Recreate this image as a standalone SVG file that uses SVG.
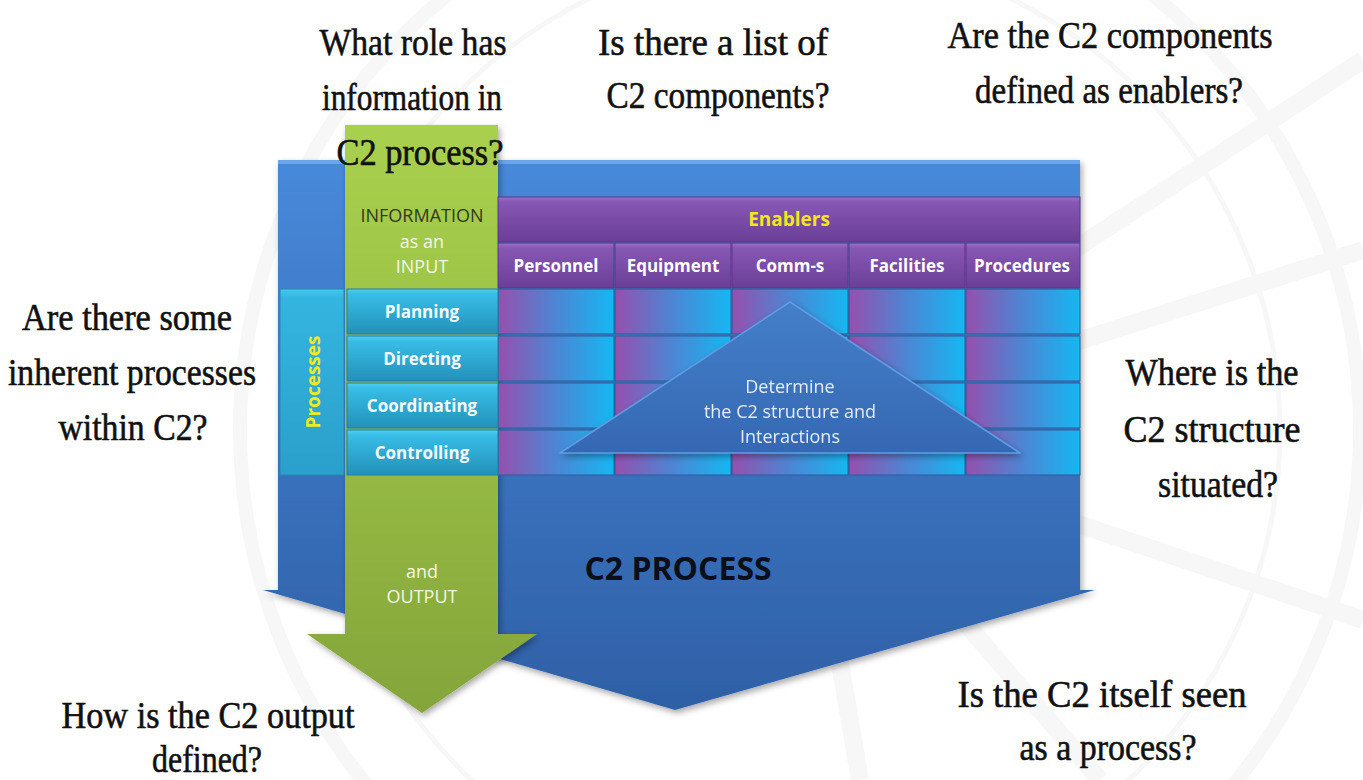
<svg xmlns="http://www.w3.org/2000/svg" width="1363" height="780" viewBox="0 0 1363 780">
  <defs>
    <linearGradient id="gBlue" x1="0" y1="160" x2="0" y2="712" gradientUnits="userSpaceOnUse">
      <stop offset="0" stop-color="#4889da"/>
      <stop offset="0.55" stop-color="#3a71bd"/>
      <stop offset="1" stop-color="#2e60a6"/>
    </linearGradient>
    <linearGradient id="gGreen" x1="0" y1="125" x2="0" y2="712" gradientUnits="userSpaceOnUse">
      <stop offset="0" stop-color="#a9d04e"/>
      <stop offset="0.5" stop-color="#98bd45"/>
      <stop offset="1" stop-color="#84a53a"/>
    </linearGradient>
    <linearGradient id="gPurple" x1="0" y1="0" x2="0" y2="1">
      <stop offset="0" stop-color="#9b6cc8"/>
      <stop offset="0.12" stop-color="#8657b3"/>
      <stop offset="1" stop-color="#6a3e97"/>
    </linearGradient>
    <linearGradient id="gCyan" x1="0" y1="0" x2="0" y2="1">
      <stop offset="0" stop-color="#4fd0f2"/>
      <stop offset="0.12" stop-color="#37bde6"/>
      <stop offset="1" stop-color="#2391b9"/>
    </linearGradient>
    <linearGradient id="gProc" x1="0" y1="0" x2="0" y2="1">
      <stop offset="0" stop-color="#45c8ee"/>
      <stop offset="0.05" stop-color="#33b5e0"/>
      <stop offset="1" stop-color="#2b9fcb"/>
    </linearGradient>
    <linearGradient id="gCell" x1="0" y1="0" x2="1" y2="0">
      <stop offset="0" stop-color="#9550ae"/>
      <stop offset="0.5" stop-color="#4c86d4"/>
      <stop offset="1" stop-color="#14b8f2"/>
    </linearGradient>
    <linearGradient id="gTri" x1="0" y1="0" x2="0" y2="1">
      <stop offset="0" stop-color="#447fca"/>
      <stop offset="1" stop-color="#3568b2"/>
    </linearGradient>
    <filter id="shadow" x="-10%" y="-10%" width="120%" height="120%">
      <feDropShadow dx="2" dy="3" stdDeviation="3" flood-color="#000" flood-opacity="0.35"/>
    </filter>
    <style>
      .hand { font-family: "Liberation Serif", "DejaVu Serif", serif; font-size: 38px; fill: #111; stroke: #111; stroke-width: 0.6; text-anchor: middle; }
      .lbl { font-family: "Open Sans", "Noto Sans", "Liberation Sans", sans-serif; text-anchor: middle; }
      .bold { font-weight: bold; }
      .hdr { font-size: 17px; fill: #ffffff; font-weight: bold; }
      .row { font-size: 17px; fill: #f4fbff; font-weight: bold; }
      .cell { stroke: #2b5d98; stroke-width: 1; }
      .wm { fill: none; stroke: #f7f7f7; }
    </style>
  </defs>

  <rect width="1363" height="780" fill="#ffffff"/>

  <!-- faint background emblem -->
  <g id="emblem">
    <circle class="wm" cx="800" cy="430" r="560" stroke-width="14"/>
    <circle class="wm" cx="800" cy="430" r="480" stroke-width="5"/>
    <path class="wm" stroke-width="18" d="M800 430 L1363 60 M800 430 L1363 250 M800 430 L1363 620 M800 430 L1100 780 M800 430 L860 780"/>
  </g>

  <!-- C2 process: large blue downward arrow -->
  <g id="c2-process" filter="url(#shadow)">
    <path d="M278 160 L1080 160 L1080 590 L1095 590 L675 710 L263 590 L278 590 Z" fill="url(#gBlue)"/>
    <rect x="278" y="160" width="802" height="4" fill="#6aa6ec"/>
  </g>

  <!-- Information input/output: green downward arrow -->
  <g id="information-arrow" filter="url(#shadow)">
    <path d="M345 125 L498 125 L498 634 L537 634 L422 713 L307 634 L345 634 Z" fill="url(#gGreen)"/>
  </g>

  <!-- Enablers header bar -->
  <g id="enablers">
    <rect x="498" y="197" width="582" height="45" fill="url(#gPurple)" stroke="#5e3688" stroke-width="1"/>
    <text class="lbl bold" x="789" y="226" font-size="19" fill="#f2e61c">Enablers</text>
  </g>

  <!-- Enabler column headers -->
  <g id="enabler-headers" class="lbl">
    <g id="hdr-personnel"><rect x="498" y="243" width="116" height="45" fill="url(#gPurple)" stroke="#5e3688"/><text class="hdr" x="556" y="272">Personnel</text></g>
    <g id="hdr-equipment"><rect x="615" y="243" width="116" height="45" fill="url(#gPurple)" stroke="#5e3688"/><text class="hdr" x="673" y="272">Equipment</text></g>
    <g id="hdr-comms"><rect x="732" y="243" width="116" height="45" fill="url(#gPurple)" stroke="#5e3688"/><text class="hdr" x="790" y="272">Comm-s</text></g>
    <g id="hdr-facilities"><rect x="849" y="243" width="116" height="45" fill="url(#gPurple)" stroke="#5e3688"/><text class="hdr" x="907" y="272">Facilities</text></g>
    <g id="hdr-procedures"><rect x="966" y="243" width="114" height="45" fill="url(#gPurple)" stroke="#5e3688"/><text class="hdr" x="1022" y="272">Procedures</text></g>
  </g>

  <!-- Process / enabler matrix cells -->
  <g id="matrix">
    <rect class="cell" x="498" y="289" width="116" height="45" fill="url(#gCell)"/>
    <rect class="cell" x="615" y="289" width="116" height="45" fill="url(#gCell)"/>
    <rect class="cell" x="732" y="289" width="116" height="45" fill="url(#gCell)"/>
    <rect class="cell" x="849" y="289" width="116" height="45" fill="url(#gCell)"/>
    <rect class="cell" x="966" y="289" width="114" height="45" fill="url(#gCell)"/>
    <rect class="cell" x="498" y="336" width="116" height="45" fill="url(#gCell)"/>
    <rect class="cell" x="615" y="336" width="116" height="45" fill="url(#gCell)"/>
    <rect class="cell" x="732" y="336" width="116" height="45" fill="url(#gCell)"/>
    <rect class="cell" x="849" y="336" width="116" height="45" fill="url(#gCell)"/>
    <rect class="cell" x="966" y="336" width="114" height="45" fill="url(#gCell)"/>
    <rect class="cell" x="498" y="383" width="116" height="45" fill="url(#gCell)"/>
    <rect class="cell" x="615" y="383" width="116" height="45" fill="url(#gCell)"/>
    <rect class="cell" x="732" y="383" width="116" height="45" fill="url(#gCell)"/>
    <rect class="cell" x="849" y="383" width="116" height="45" fill="url(#gCell)"/>
    <rect class="cell" x="966" y="383" width="114" height="45" fill="url(#gCell)"/>
    <rect class="cell" x="498" y="430" width="116" height="45" fill="url(#gCell)"/>
    <rect class="cell" x="615" y="430" width="116" height="45" fill="url(#gCell)"/>
    <rect class="cell" x="732" y="430" width="116" height="45" fill="url(#gCell)"/>
    <rect class="cell" x="849" y="430" width="116" height="45" fill="url(#gCell)"/>
    <rect class="cell" x="966" y="430" width="114" height="45" fill="url(#gCell)"/>
  </g>

  <!-- Processes side column -->
  <g id="processes">
    <rect x="280" y="289" width="64" height="186" fill="url(#gProc)" stroke="#2a86ad" stroke-width="1"/>
    <text class="lbl bold" transform="translate(320 382) rotate(-90)" font-size="19" fill="#eeea1e">Processes</text>
  </g>

  <!-- Process rows -->
  <g id="process-rows" class="lbl">
    <g id="row-planning"><rect x="347" y="289" width="151" height="45" fill="url(#gCyan)" stroke="#1f7fa6"/><text class="row" x="422" y="318">Planning</text></g>
    <g id="row-directing"><rect x="347" y="336" width="151" height="45" fill="url(#gCyan)" stroke="#1f7fa6"/><text class="row" x="422" y="365">Directing</text></g>
    <g id="row-coordinating"><rect x="347" y="383" width="151" height="45" fill="url(#gCyan)" stroke="#1f7fa6"/><text class="row" x="422" y="412">Coordinating</text></g>
    <g id="row-controlling"><rect x="347" y="430" width="151" height="45" fill="url(#gCyan)" stroke="#1f7fa6"/><text class="row" x="422" y="459">Controlling</text></g>
  </g>

  <!-- Information labels on the green arrow -->
  <g id="information-labels" class="lbl" font-size="18">
    <text x="422" y="222" fill="#2f3a1a">INFORMATION</text>
    <text x="422" y="248" fill="#f2f8e6">as an</text>
    <text x="422" y="273" fill="#f2f8e6">INPUT</text>
    <text x="422" y="578" fill="#f2f8e6">and</text>
    <text x="422" y="603" fill="#f2f8e6">OUTPUT</text>
  </g>

  <!-- C2 structure triangle -->
  <g id="structure" filter="url(#shadow)">
    <path d="M790 302 L1020 453 L560 453 Z" fill="url(#gTri)" stroke="#5d9ce4" stroke-width="1.5" stroke-linejoin="round"/>
    <g class="lbl" font-size="18" fill="#e4edf8">
      <text x="790" y="393">Determine</text>
      <text x="790" y="418">the C2 structure and</text>
      <text x="790" y="443">Interactions</text>
    </g>
  </g>

  <g id="c2-process-label">
    <text class="lbl bold" x="678" y="580" font-size="32" fill="#0b0f1a">C2 PROCESS</text>
  </g>

  <!-- Guiding questions -->
  <g id="questions" class="hand">
    <text x="413" y="55" textLength="187" lengthAdjust="spacingAndGlyphs">What role has</text>
    <text x="412" y="110" textLength="180" lengthAdjust="spacingAndGlyphs">information in</text>
    <text x="420" y="165" textLength="167" lengthAdjust="spacingAndGlyphs">C2 process?</text>

    <text x="713" y="55" textLength="230" lengthAdjust="spacingAndGlyphs">Is there a list of</text>
    <text x="718" y="108" textLength="223" lengthAdjust="spacingAndGlyphs">C2 components?</text>

    <text x="1110" y="48" textLength="325" lengthAdjust="spacingAndGlyphs">Are the C2 components</text>
    <text x="1109" y="103" textLength="268" lengthAdjust="spacingAndGlyphs">defined as enablers?</text>

    <text x="127" y="330" textLength="210" lengthAdjust="spacingAndGlyphs">Are there some</text>
    <text x="132" y="385" textLength="248" lengthAdjust="spacingAndGlyphs">inherent processes</text>
    <text x="133" y="440" textLength="149" lengthAdjust="spacingAndGlyphs">within C2?</text>

    <text x="1212" y="385" textLength="173" lengthAdjust="spacingAndGlyphs">Where is the</text>
    <text x="1212" y="442" textLength="177" lengthAdjust="spacingAndGlyphs">C2 structure</text>
    <text x="1218" y="497" textLength="120" lengthAdjust="spacingAndGlyphs">situated?</text>

    <text x="208" y="728" textLength="293" lengthAdjust="spacingAndGlyphs">How is the C2 output</text>
    <text x="207" y="772" textLength="110" lengthAdjust="spacingAndGlyphs">defined?</text>

    <text x="1102" y="707" textLength="289" lengthAdjust="spacingAndGlyphs">Is the C2 itself seen</text>
    <text x="1108" y="760" textLength="177" lengthAdjust="spacingAndGlyphs">as a process?</text>
  </g>
</svg>
